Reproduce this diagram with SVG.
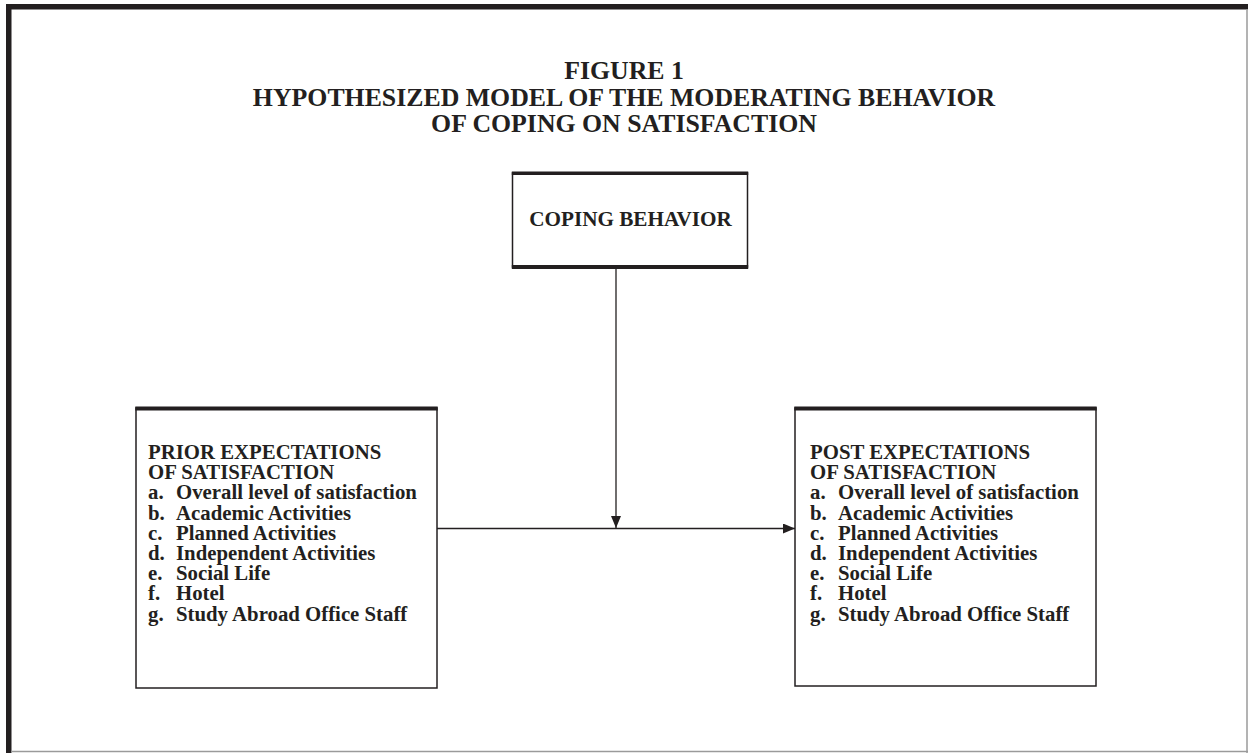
<svg xmlns="http://www.w3.org/2000/svg" width="1249" height="753" viewBox="0 0 1249 753">
<defs>
<marker id="ah" viewBox="0 0 12 10" refX="12" refY="5" markerWidth="12" markerHeight="10" markerUnits="userSpaceOnUse" orient="auto">
<path d="M0,0 L12,5 L0,10 Z" fill="#231f20"/>
</marker>
<style>
text{font-family:"Liberation Serif","Times New Roman",serif;font-weight:bold;fill:#231f20}
.t{font-size:25.8px;text-anchor:middle}
.b{font-size:20.8px}
.c{font-size:21.2px;text-anchor:middle}
.box{fill:#fff;stroke:#231f20;stroke-width:1.5}
.bar{fill:#231f20}
.ln{stroke:#231f20;stroke-width:1.3;fill:none}
</style>
</defs>
<rect width="1249" height="753" fill="#fff"/>
<g id="frame">
<rect x="6" y="4" width="1242" height="5.5" fill="#231f20"/>
<rect x="6" y="4" width="5.5" height="749" fill="#231f20"/>
<line x1="1247" y1="9" x2="1247" y2="753" stroke="#9a9a9a" stroke-width="1.5"/>
<line x1="11" y1="751.5" x2="1248" y2="751.5" stroke="#9a9a9a" stroke-width="1.5"/>
</g>
<g id="title">
<text class="t" x="624" y="79">FIGURE 1</text>
<text class="t" x="624" y="106">HYPOTHESIZED MODEL OF THE MODERATING BEHAVIOR</text>
<text class="t" x="624" y="132">OF COPING ON SATISFACTION</text>
</g>
<g id="connectors">
<line class="ln" x1="616" y1="269" x2="616" y2="528" marker-end="url(#ah)"/>
<line class="ln" x1="437" y1="528.5" x2="795" y2="528.5" marker-end="url(#ah)"/>
</g>
<g id="coping">
<rect class="box" x="512.5" y="173" width="235" height="94"/>
<rect class="bar" x="511.8" y="171.5" width="236.4" height="3.5"/>
<rect class="bar" x="511.8" y="265" width="236.4" height="4"/>
<text class="c" x="630.5" y="226">COPING BEHAVIOR</text>
</g>
<g id="prior">
<rect class="box" x="136" y="408" width="301" height="280"/>
<rect class="bar" x="135.3" y="406.5" width="302.4" height="4"/>
<text class="b" x="148" y="459">PRIOR EXPECTATIONS</text>
<text class="b" x="148" y="479.2">OF SATISFACTION</text>
<text class="b" x="148" y="499.4">a.</text><text class="b" x="176" y="499.4">Overall level of satisfaction</text>
<text class="b" x="148" y="519.6">b.</text><text class="b" x="176" y="519.6">Academic Activities</text>
<text class="b" x="148" y="539.8">c.</text><text class="b" x="176" y="539.8">Planned Activities</text>
<text class="b" x="148" y="560">d.</text><text class="b" x="176" y="560">Independent Activities</text>
<text class="b" x="148" y="580.2">e.</text><text class="b" x="176" y="580.2">Social Life</text>
<text class="b" x="148" y="600.4">f.</text><text class="b" x="176" y="600.4">Hotel</text>
<text class="b" x="148" y="620.6">g.</text><text class="b" x="176" y="620.6">Study Abroad Office Staff</text>
</g>
<g id="post">
<rect class="box" x="795" y="408" width="301" height="278"/>
<rect class="bar" x="794.3" y="406.5" width="302.4" height="4"/>
<text class="b" x="810" y="459">POST EXPECTATIONS</text>
<text class="b" x="810" y="479.2">OF SATISFACTION</text>
<text class="b" x="810" y="499.4">a.</text><text class="b" x="838" y="499.4">Overall level of satisfaction</text>
<text class="b" x="810" y="519.6">b.</text><text class="b" x="838" y="519.6">Academic Activities</text>
<text class="b" x="810" y="539.8">c.</text><text class="b" x="838" y="539.8">Planned Activities</text>
<text class="b" x="810" y="560">d.</text><text class="b" x="838" y="560">Independent Activities</text>
<text class="b" x="810" y="580.2">e.</text><text class="b" x="838" y="580.2">Social Life</text>
<text class="b" x="810" y="600.4">f.</text><text class="b" x="838" y="600.4">Hotel</text>
<text class="b" x="810" y="620.6">g.</text><text class="b" x="838" y="620.6">Study Abroad Office Staff</text>
</g>
</svg>
